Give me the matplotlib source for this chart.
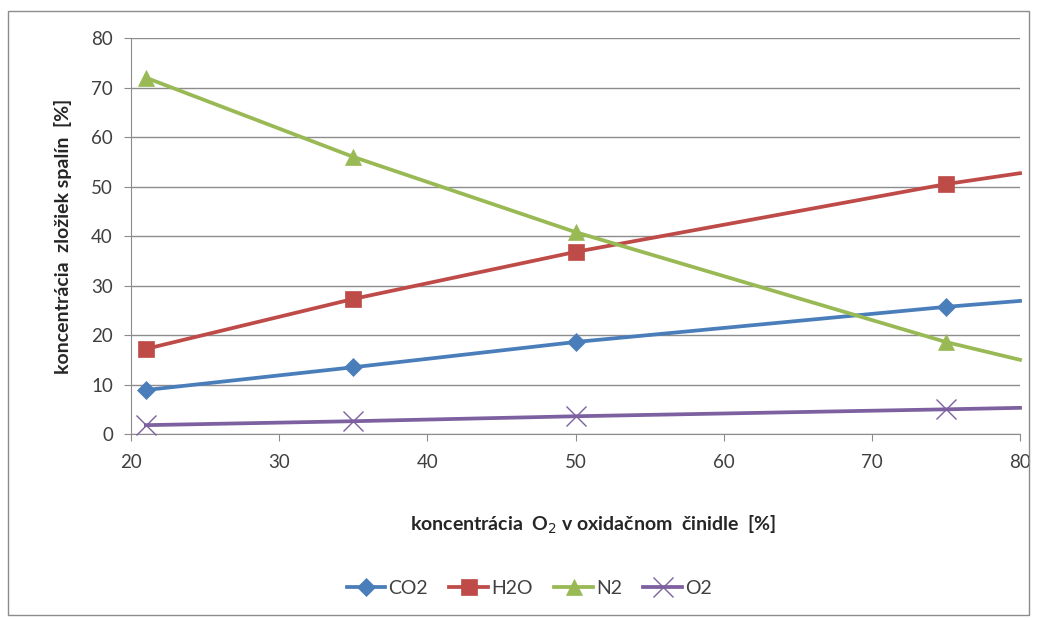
import matplotlib.pyplot as plt
from matplotlib.patches import Rectangle

plt.rcParams['font.family'] = ['Lato', 'DejaVu Sans']

# data
x_vals = [21, 35, 50, 75, 80]
co2 = [8.9, 13.5, 18.6, 25.7, 26.9]
h2o = [17.2, 27.3, 36.8, 50.5, 52.7]
n2 = [72.0, 56.0, 40.8, 18.6, 15.0]
o2 = [1.8, 2.6, 3.6, 5.0, 5.3]
series_names = ['CO2', 'H2O', 'N2', 'O2']

colors = ['#4A7EBB', '#BE4B48', '#98B954', '#7D60A0']
markers = ['D', 's', '^', 'x']
msizes = [9, 11, 11, 14]

fig = plt.figure(figsize=(10.48, 6.21), dpi=100)
ax = fig.add_axes([0.125, 0.301, 0.8483, 0.6377])

# outer chart border
fig.patches.append(Rectangle((0.008, 0.01), 0.974, 0.972, transform=fig.transFigure,
                             fill=False, edgecolor='#8c8c8c', linewidth=1.0))

for name, ys, c, m, ms in zip(series_names, [co2, h2o, n2, o2], colors, markers, msizes):
    ax.plot(x_vals, ys, color=c, linewidth=2.7, marker=m, markersize=ms,
            markeredgewidth=1.0 if m == 'x' else 0.5, markevery=[0, 1, 2, 3],
            label=name, clip_on=False, zorder=3)

ax.set_xlim(20, 80)
ax.set_ylim(0, 80)
ax.set_xticks(range(20, 81, 10))
ax.set_yticks(range(0, 81, 10))
ax.yaxis.grid(True, color='#8c8c8c', linewidth=1.0)
ax.set_axisbelow(True)
for s in ['top', 'right']:
    ax.spines[s].set_visible(False)
for s in ['left', 'bottom']:
    ax.spines[s].set_color('#8c8c8c')
ax.tick_params(axis='both', colors='#8c8c8c', labelcolor='#404040', labelsize=13.5,
               length=5, direction='out')
ax.tick_params(axis='x', pad=9)
ax.tick_params(axis='y', pad=8)

ax.set_xlabel('koncentrácia  O$_2$ v oxidačnom  činidle  [%]', fontsize=14,
              fontweight='bold', color='#262626', labelpad=30)
ax.xaxis.set_label_coords(0.52, -0.2)
ax.set_ylabel('koncentrácia  zložiek spalín  [%]', fontsize=14,
              fontweight='bold', color='#262626', labelpad=14)

leg = fig.legend(loc='center', bbox_to_anchor=(0.505, 0.053), ncol=4, frameon=False,
                 fontsize=14, handlelength=2.0, columnspacing=1.1, handletextpad=0.15)
for t in leg.get_texts():
    t.set_color('#404040')

fig.savefig('out.png', dpi=100)
